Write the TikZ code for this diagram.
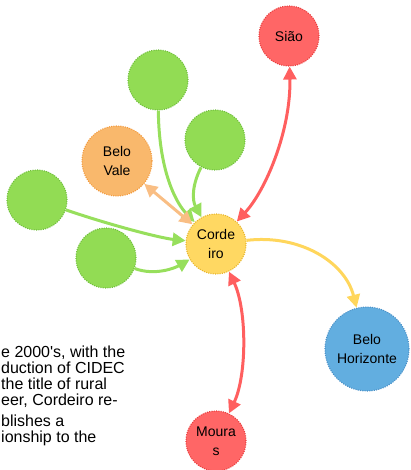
\documentclass[tikz,border=0pt]{standalone}
\usepackage{fontspec}
\setmainfont[Ligatures=TeXOff]{Liberation Sans}
\usetikzlibrary{arrows.meta}

\definecolor{gfill}{HTML}{92DC54}
\definecolor{gline}{HTML}{6FBE3C}
\definecolor{garr}{HTML}{97DF5C}
\definecolor{ofill}{HTML}{F9B86C}
\definecolor{oline}{HTML}{F2993C}
\definecolor{oarr}{HTML}{F9BE84}
\definecolor{rfill}{HTML}{FF6666}
\definecolor{rline}{HTML}{E83E3E}
\definecolor{rarr}{HTML}{FF5F5F}
\definecolor{yfill}{HTML}{FFD862}
\definecolor{yline}{HTML}{E6B42C}
\definecolor{yarr}{HTML}{FFD65C}
\definecolor{bfill}{HTML}{62AEE0}
\definecolor{bline}{HTML}{4A8FC6}

\tikzset{
  place/.style={circle, draw, line width=1.1pt, dash pattern=on 1pt off 1.3pt,
    inner sep=0pt, align=center, font=\fontsize{14}{19}\selectfont},
  greennode/.style={place, fill=gfill, draw=gline, minimum size=60pt},
  link/.style={line width=3pt, -{Triangle[length=13pt,width=13pt]}},
  biglink/.style={line width=3pt, {Triangle[length=13pt,width=13pt]}-{Triangle[length=13pt,width=13pt]}},
  para/.style={anchor=base west, inner sep=0pt, font=\fontsize{16}{16}\selectfont}
}

\begin{document}
\begin{tikzpicture}[x=1pt,y=-1pt]
\useasboundingbox (0,0) rectangle (411,470);
\clip (0,0) rectangle (411,470);

% places
\node[place, fill=yfill, draw=yline, minimum size=60pt] (cord) at (216,244) {Corde\\iro};
\node[place, fill=rfill, draw=rline, minimum size=60pt] (siao) at (289,36) {Sião};
\node[place, fill=ofill, draw=oline, minimum size=70pt] (bvale) at (117,161) {Belo\\Vale};
\node[greennode] (g1) at (158,80) {};
\node[greennode] (g2) at (215,140) {};
\node[greennode] (g3) at (37,200) {};
\node[greennode] (g4) at (106,258) {};
\node[place, fill=bfill, draw=bline, minimum size=84pt] (bh) at (367,349) {Belo\\Horizonte};
\node[place, fill=rfill, draw=rline, minimum size=60pt] (moura) at (216,441) {Moura\\s};

% links into Cordeiro
\draw[link, garr] (g1) .. controls (159,175) and (178,205) .. (cord);
\draw[link, garr] (g2) .. controls (192,185) and (192,200) .. (cord);
\draw[link, garr] (g3) .. controls (110,225) and (160,238) .. (cord);
\draw[link, garr] (g4) .. controls (155,276) and (175,268) .. (cord);
\draw[biglink, oarr] (bvale) -- (cord);
\draw[biglink, rarr] (siao) .. controls (291,130) and (266,190) .. (cord);
\draw[biglink, rarr] (cord) .. controls (247,310) and (247,375) .. (moura);
\draw[link, yarr] (cord) .. controls (300,234) and (345,262) .. (bh);

% paragraph
\node[para] (t1) at (1,357) {e 2000's, with the};
\node[para] (t2) at (1,373) {duction of CIDEC};
\node[para] (t3) at (1,389) {the title of rural};
\node[para] (t4) at (1,405) {eer, Cordeiro re-};
\node[para] (t5) at (1,426) {blishes a};
\node[para] (t6) at (1,442) {ionship to the};
\end{tikzpicture}
\end{document}
